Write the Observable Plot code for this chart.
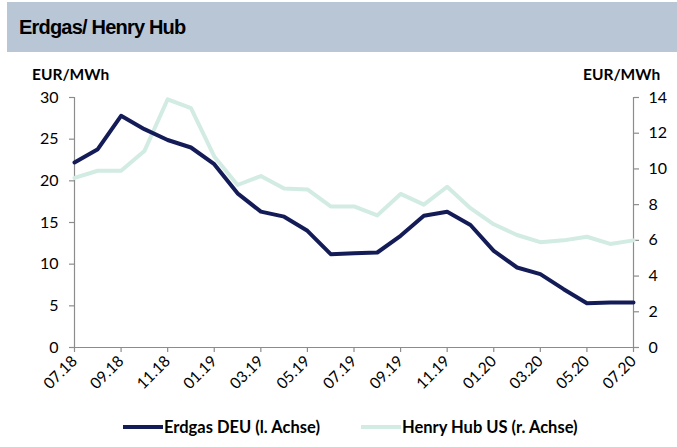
<!DOCTYPE html>
<html>
<head>
<meta charset="utf-8">
<script src="https://cdn.jsdelivr.net/npm/d3@7"></script>
<script src="https://cdn.jsdelivr.net/npm/@observablehq/plot@0.6"></script>
<style>
  html, body { margin: 0; padding: 0; background: #fff; width: 677px; height: 447px; overflow: hidden; }
  #header { position: absolute; left: 7px; top: 2px; width: 670px; height: 50px; background: #b9c6d6; }
  #header span { position: absolute; left: 12px; top: 14px; font-family: "Liberation Sans", Arial, sans-serif; font-weight: bold; font-size: 20px; color: #000; letter-spacing: -0.8px; }
  .unit { position: absolute; top: 65px; font-family: Lato, "Open Sans", sans-serif; font-weight: bold; font-size: 15.5px; color: #000; }
  #chart { position: absolute; left: 0; top: 52px; }
  #legend { position: absolute; top: 416px; left: 0; width: 677px; height: 22px; font-family: Lato, "Open Sans", sans-serif; font-weight: bold; font-size: 16.5px; color: #000; }
  .li { position: absolute; top: 0; display: flex; align-items: center; height: 22px; }
  .sw { display: inline-block; width: 40px; height: 4px; margin-right: 1px; }
</style>
</head>
<body>
<div id="header"><span>Erdgas/ Henry Hub</span></div>
<div class="unit" style="left:32px">EUR/MWh</div>
<div class="unit" style="left:583px">EUR/MWh</div>
<div id="chart"></div>
<div id="legend">
  <div class="li" style="left:123px"><span class="sw" style="background:#141c58"></span>Erdgas DEU (l. Achse)</div>
  <div class="li" style="left:361px"><span class="sw" style="background:#d2ebe3"></span>Henry Hub US (r. Achse)</div>
</div>
<script>
const months = ["07.18","08.18","09.18","10.18","11.18","12.18","01.19","02.19","03.19","04.19","05.19","06.19",
  "07.19","08.19","09.19","10.19","11.19","12.19","01.20","02.20","03.20","04.20","05.20","06.20","07.20"];
const erdgasDEU = [22.2,23.8,27.8,26.2,24.9,24.0,22.0,18.5,16.3,15.7,14.0,11.2,
  11.3,11.4,13.4,15.8,16.3,14.7,11.6,9.6,8.8,7.0,5.3,5.4,5.4];
const henryHub = [9.5,9.9,9.9,11.0,13.9,13.4,10.7,9.1,9.6,8.9,8.85,7.9,
  7.9,7.4,8.6,8.0,9.0,7.8,6.9,6.3,5.9,6.0,6.2,5.8,6.0];
const leftTicks = [0,5,10,15,20,25,30];
const rightTicks = [0,2,4,6,8,10,12,14];
const xTicks = [0,2,4,6,8,10,12,14,16,18,20,22,24];

const LMAX = 30, RMAX = 14, k = LMAX / RMAX;
const deu = months.map((m, i) => ({i, v: erdgasDEU[i]}));
const hh = months.map((m, i) => ({i, v: henryHub[i] * k}));
const axisColor = "#8c8c8c";

const chart = Plot.plot({
  width: 677,
  height: 358,
  marginTop: 45,
  marginBottom: 63,
  marginLeft: 74,
  marginRight: 44,
  style: {fontFamily: "Lato, 'Open Sans', sans-serif", fontSize: "16px", color: "#000", background: "transparent"},
  x: {domain: [0, months.length - 1]},
  y: {domain: [0, LMAX]},
  marks: [
    Plot.ruleX([0], {stroke: axisColor, strokeWidth: 1.2}),
    Plot.ruleX([months.length - 1], {stroke: axisColor, strokeWidth: 1.2}),
    Plot.ruleY([0], {stroke: axisColor, strokeWidth: 1.2}),
    Plot.axisY(leftTicks, {anchor: "left", label: null, tickSize: 5, tickPadding: 11, stroke: axisColor, strokeWidth: 1.2}),
    Plot.axisY(rightTicks.map(d => d * k), {anchor: "right", label: null, tickSize: 5, tickPadding: 10,
      tickFormat: d => String(Math.round(d / k)), stroke: axisColor, strokeWidth: 1.2}),
    Plot.axisX(xTicks, {anchor: "bottom", label: null, tickSize: 5, tickPadding: 6, tickRotate: -45,
      tickFormat: i => months[i], fontSize: 15.5, stroke: axisColor, strokeWidth: 1.2}),
    Plot.line(hh, {x: "i", y: "v", stroke: "#d2ebe3", strokeWidth: 4, strokeLinejoin: "round"}),
    Plot.line(deu, {x: "i", y: "v", stroke: "#141c58", strokeWidth: 4, strokeLinejoin: "round"})
  ]
});
document.getElementById("chart").appendChild(chart);
</script>
</body>
</html>
